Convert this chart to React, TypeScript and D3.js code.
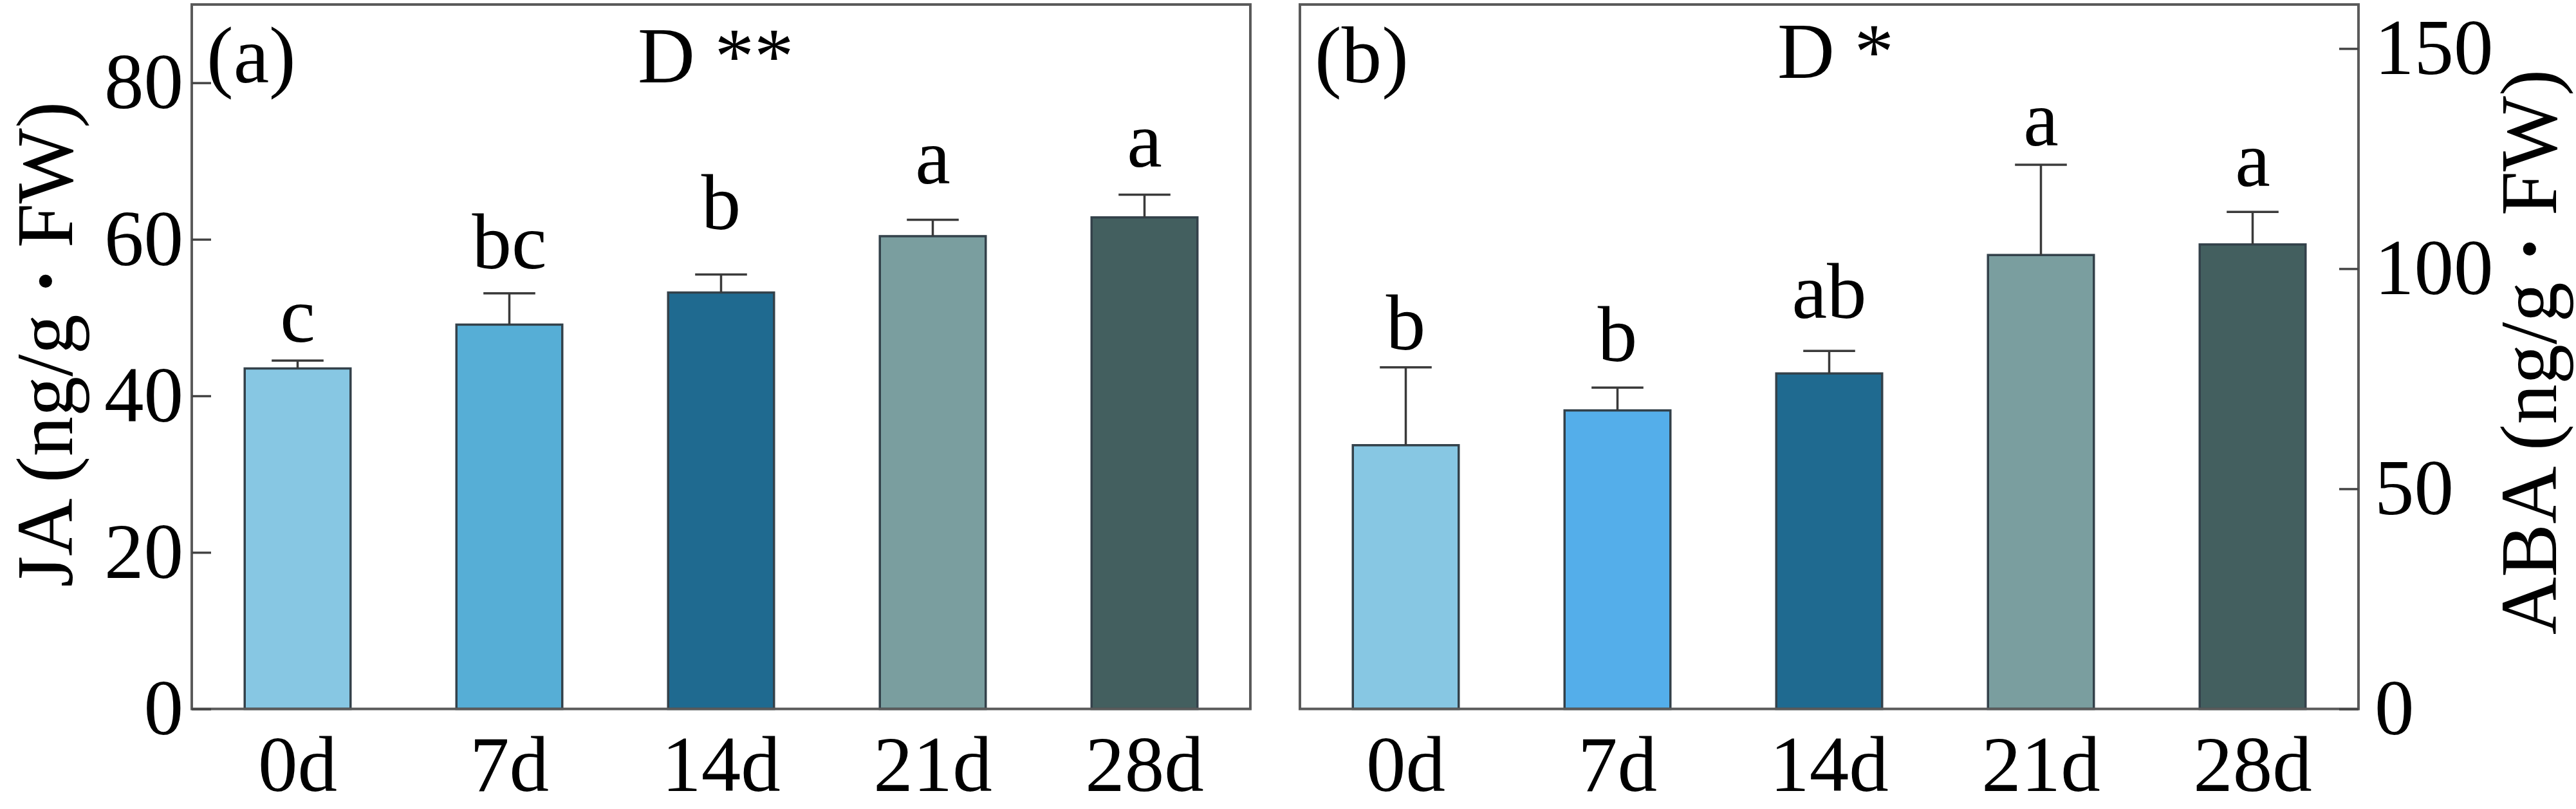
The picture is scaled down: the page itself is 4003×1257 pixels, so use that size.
import React, { useEffect, useRef } from "react";
import * as d3 from "d3";

// sampling days (shared by both panels)
const days = ["0d", "7d", "14d", "21d", "28d"];

// (a) JA
const jaMean = [43.5, 49.1, 53.2, 60.4, 62.8];
const jaSe = [1.0, 4.0, 2.3, 2.1, 2.9];
const jaLetters = ["c", "bc", "b", "a", "a"];
const jaLetterAt = [46.9, 56.3, 61.3, 67.1, 69.3];
const jaTicks = [0, 20, 40, 60, 80];
const jaColors = ["#87c7e3", "#56aed6", "#1f6a90", "#7a9e9f", "#435f5f"];

// (b) ABA
const abaMean = [59.9, 67.8, 76.2, 103.1, 105.5];
const abaSe = [17.7, 5.2, 5.1, 20.5, 7.4];
const abaLetters = ["b", "b", "ab", "a", "a"];
const abaLetterAt = [81.7, 79.0, 88.8, 128.0, 118.8];
const abaTicks = [0, 50, 100, 150];
const abaColors = ["#87c7e3", "#54aeea", "#1f6a90", "#7a9e9f", "#435f5f"];

const W = 4003;
const H = 1257;
const FONT = '"Liberation Serif", "Times New Roman", Times, serif';
const FS = 123;
const TOP = 7;
const BOTTOM = 1101.5;

interface Panel {
  left: number;
  right: number;
  max: number;
  mean: number[];
  se: number[];
  letters: string[];
  letterAt: number[];
  ticks: number[];
  colors: string[];
  side: "left" | "right";
  tag: string;
  sig: string;
  sigX: number;
  sigY: number;
  title: string;
  titleX: number;
  titleY: number;
}

function drawPanel(svg: d3.Selection<SVGSVGElement, unknown, null, undefined>, p: Panel) {
  const x = d3.scaleBand<string>()
    .domain(days)
    .range([p.left, p.right])
    .paddingInner(0.5)
    .paddingOuter(0.25);
  const y = d3.scaleLinear().domain([0, p.max]).range([BOTTOM, TOP]);
  const g = svg.append("g");
  const bw = x.bandwidth();

  // bars
  g.selectAll("rect.bar")
    .data(days)
    .join("rect")
    .attr("class", "bar")
    .attr("x", (d) => x(d)!)
    .attr("y", (d, i) => y(p.mean[i]))
    .attr("width", bw)
    .attr("height", (d, i) => y(0) - y(p.mean[i]))
    .attr("fill", (d, i) => p.colors[i])
    .attr("stroke", "#33414a")
    .attr("stroke-width", 3.5);

  // error bars (upper only)
  const err = g.selectAll("g.err").data(days).join("g").attr("class", "err");
  err.append("line")
    .attr("x1", (d) => x(d)! + bw / 2)
    .attr("x2", (d) => x(d)! + bw / 2)
    .attr("y1", (d, i) => y(p.mean[i]))
    .attr("y2", (d, i) => y(p.mean[i] + p.se[i]));
  err.append("line")
    .attr("x1", (d) => x(d)! + bw / 2 - bw * 0.245)
    .attr("x2", (d) => x(d)! + bw / 2 + bw * 0.245)
    .attr("y1", (d, i) => y(p.mean[i] + p.se[i]))
    .attr("y2", (d, i) => y(p.mean[i] + p.se[i]));
  err.selectAll("line").attr("stroke", "#3a3a3a").attr("stroke-width", 3.5);

  // significance letters
  g.selectAll("text.letter")
    .data(days)
    .join("text")
    .attr("class", "letter")
    .attr("x", (d) => x(d)! + bw / 2)
    .attr("y", (d, i) => y(p.letterAt[i]))
    .attr("text-anchor", "middle")
    .attr("font-size", FS)
    .attr("font-family", FONT)
    .text((d, i) => p.letters[i]);

  // frame
  g.append("rect")
    .attr("x", p.left)
    .attr("y", TOP)
    .attr("width", p.right - p.left)
    .attr("height", BOTTOM - TOP)
    .attr("fill", "none")
    .attr("stroke", "#5a5a5a")
    .attr("stroke-width", 4);

  // y axis, ticks pointing inward
  const axis = (p.side === "left" ? d3.axisLeft(y).tickPadding(13) : d3.axisRight(y).tickPadding(25))
    .tickValues(p.ticks)
    .tickSizeInner(-30)
    .tickSizeOuter(0)
    .tickFormat(d3.format("d"));
  g.append("g")
    .attr("transform", `translate(${p.side === "left" ? p.left : p.right},0)`)
    .call(axis)
    .attr("font-size", FS)
    .attr("font-family", FONT)
    .call((a) => a.select(".domain").remove())
    .call((a) => a.selectAll(".tick line").attr("stroke", "#444").attr("stroke-width", 3.5))
    .call((a) => a.selectAll(".tick text").attr("fill", "#000"));

  // x labels
  g.selectAll("text.xl")
    .data(days)
    .join("text")
    .attr("class", "xl")
    .attr("x", (d) => x(d)! + bw / 2)
    .attr("y", 1229)
    .attr("text-anchor", "middle")
    .attr("font-size", FS)
    .attr("font-family", FONT)
    .text((d) => d);

  // panel tag and significance note
  g.append("text")
    .attr("x", p.left + 23)
    .attr("y", 128)
    .attr("font-size", FS + 2)
    .attr("font-family", FONT)
    .text(p.tag);
  g.append("text")
    .attr("x", p.left + p.sigX)
    .attr("y", p.sigY)
    .attr("font-size", FS)
    .attr("font-family", FONT)
    .style("white-space", "pre")
    .text(p.sig);

  // axis title
  const t = g.append("text")
    .attr("transform", `translate(${p.titleX},${p.titleY}) rotate(-90)`)
    .attr("text-anchor", "middle")
    .attr("font-size", FS + 1)
    .attr("font-family", FONT)
    .style("white-space", "pre");
  t.append("tspan").text(`${p.title} (ng/g `);
  t.append("tspan").attr("font-weight", "bold").text("·");
  t.append("tspan").text(" FW)");
}

export default function App() {
  const svgRef = useRef<SVGSVGElement | null>(null);

  useEffect(() => {
    if (!svgRef.current) return;
    const svg = d3.select(svgRef.current);
    svg.selectAll("*").remove();

    drawPanel(svg, {
      left: 298, right: 1943, max: 90,
      mean: jaMean, se: jaSe, letters: jaLetters, letterAt: jaLetterAt,
      ticks: jaTicks, colors: jaColors, side: "left",
      tag: "(a)", sig: "D **", sigX: 693, sigY: 128,
      title: "JA", titleX: 112, titleY: 535,
    });
    drawPanel(svg, {
      left: 2020, right: 3665, max: 160,
      mean: abaMean, se: abaSe, letters: abaLetters, letterAt: abaLetterAt,
      ticks: abaTicks, colors: abaColors, side: "right",
      tag: "(b)", sig: "D *", sigX: 742, sigY: 121,
      title: "ABA", titleX: 3972, titleY: 547,
    });
  }, []);

  return (
    <svg
      ref={svgRef}
      width={W}
      height={H}
      style={{ position: "absolute", left: 0, top: 0, background: "#fff" }}
    />
  );
}
